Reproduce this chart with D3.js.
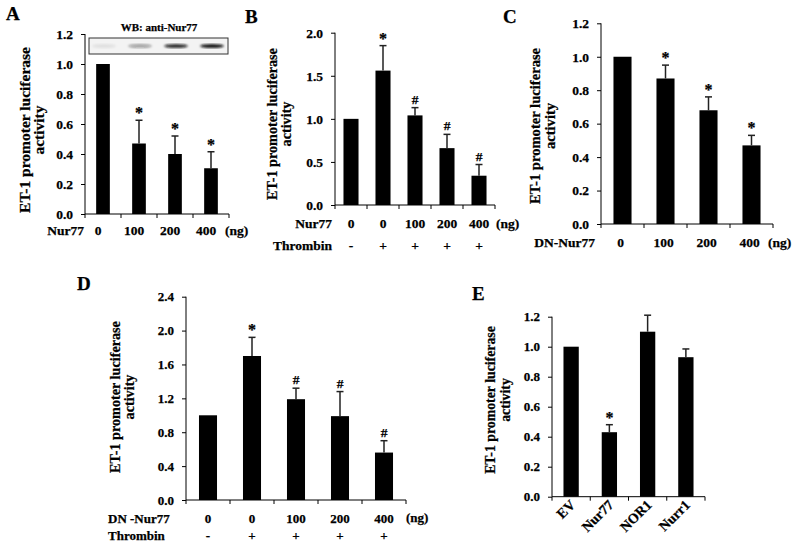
<!DOCTYPE html>
<html>
<head>
<meta charset="utf-8">
<script src="https://cdn.jsdelivr.net/npm/d3@7"></script>
<style>
  body { margin: 0; background: #fff; }
  svg { display: block; }
  svg text { stroke: #000; stroke-width: 0.25px; }
</style>
</head>
<body>
<svg id="chart" width="800" height="549"></svg>
<script>
// panel A : Nur77 dose
var aCats = ["0", "100", "200", "400"];
var aMeans = [1.0, 0.47, 0.40, 0.305];
var aErr = [0, 0.155, 0.12, 0.11];
var aMarks = ["", "*", "*", "*"];
var aTicks = [0, 0.2, 0.4, 0.6, 0.8, 1.0, 1.2];
var aBlot = [0.08, 0.35, 0.85, 0.95];

// panel B : Nur77 + thrombin
var bCats = ["0", "0", "100", "200", "400"];
var bThrombin = ["-", "+", "+", "+", "+"];
var bMeans = [1.0, 1.56, 1.04, 0.66, 0.34];
var bErr = [0, 0.29, 0.09, 0.16, 0.13];
var bMarks = ["", "*", "#", "#", "#"];
var bTicks = [0, 0.5, 1.0, 1.5, 2.0];

// panel C : DN-Nur77 dose
var cCats = ["0", "100", "200", "400"];
var cMeans = [1.0, 0.87, 0.68, 0.47];
var cErr = [0, 0.08, 0.08, 0.06];
var cMarks = ["", "*", "*", "*"];
var cTicks = [0, 0.2, 0.4, 0.6, 0.8, 1.0, 1.2];

// panel D : DN-Nur77 + thrombin
var dCats = ["0", "0", "100", "200", "400"];
var dThrombin = ["-", "+", "+", "+", "+"];
var dMeans = [1.0, 1.70, 1.19, 0.99, 0.56];
var dErr = [0, 0.22, 0.13, 0.29, 0.14];
var dMarks = ["", "*", "#", "#", "#"];
var dTicks = [0, 0.4, 0.8, 1.2, 1.6, 2.0, 2.4];

// panel E : receptor family
var eCats = ["EV", "Nur77", "NOR1", "Nurr1"];
var eMeans = [1.0, 0.43, 1.10, 0.93];
var eErr = [0, 0.05, 0.11, 0.055];
var eMarks = ["", "*", "", ""];
var eTicks = [0, 0.2, 0.4, 0.6, 0.8, 1.0, 1.2];

var serif = "'Liberation Serif','Times New Roman',serif";
var svg = d3.select("#chart");
svg.append("rect").attr("width", 800).attr("height", 549).attr("fill", "#fff");

function drawPanel(p) {
    var g = svg.append("g");
    var pad = p.barFrac;
    var x = d3.scaleBand()
        .domain(d3.range(p.means.length))
        .range([p.x0, p.x1])
        .paddingInner(pad)
        .paddingOuter(pad / 2);
    var y = d3.scaleLinear()
        .domain([0, p.ticks[p.ticks.length - 1]])
        .range([p.yBottom, p.yTop]);
    var step = x.step();
    var off = p.labelOff || 0;

    // panel letter
    g.append("text")
        .attr("x", p.letterX).attr("y", p.letterY)
        .attr("font-family", serif).attr("font-weight", "bold")
        .attr("font-size", 19).text(p.letter);

    // bars
    g.selectAll("rect.bar").data(p.means).enter().append("rect")
        .attr("class", "bar")
        .attr("x", function(d, i) { return x(i); })
        .attr("width", x.bandwidth())
        .attr("y", function(d) { return y(d); })
        .attr("height", function(d) { return y(0) - y(d); })
        .attr("fill", "#000");

    // error bars (upper only)
    p.means.forEach(function(m, i) {
        if (!p.errs[i]) return;
        var cx = x(i) + x.bandwidth() / 2;
        g.append("line")
            .attr("x1", cx).attr("x2", cx)
            .attr("y1", y(m)).attr("y2", y(m + p.errs[i]))
            .attr("stroke", "#222").attr("stroke-width", 1.5);
        g.append("line")
            .attr("x1", cx - 3.5).attr("x2", cx + 3.5)
            .attr("y1", y(m + p.errs[i])).attr("y2", y(m + p.errs[i]))
            .attr("stroke", "#222").attr("stroke-width", 1.5);
    });

    // significance marks
    g.selectAll("text.mark").data(p.marks).enter().append("text")
        .attr("class", "mark")
        .attr("x", function(d, i) { return x(i) + x.bandwidth() / 2; })
        .attr("y", function(d, i) { return y(p.means[i] + p.errs[i]) - (d == "*" ? 2 : 4); })
        .attr("text-anchor", "middle")
        .attr("font-family", serif).attr("font-weight", "bold")
        .attr("font-size", d => d == "*" ? 16 : 13.5)
        .text(function(d) { return d; });

    // y axis
    var yAxis = d3.axisLeft(y).tickValues(p.ticks)
        .tickFormat(d3.format(".1f")).tickSize(4).tickPadding(8);
    var ya = g.append("g").attr("transform", "translate(" + p.x0 + ",0)").call(yAxis);
    ya.select(".domain").attr("d", "M0," + p.yBottom + "V" + p.yTop);

    // x axis line with ticks on band boundaries
    g.append("line")
        .attr("x1", p.x0).attr("x2", p.x1)
        .attr("y1", p.yBottom).attr("y2", p.yBottom)
        .attr("stroke", "#000");
    g.selectAll("line.xt").data(d3.range(p.means.length + 1)).enter().append("line")
        .attr("class", "xt")
        .attr("x1", function(i) { return p.x0 + i * step; })
        .attr("x2", function(i) { return p.x0 + i * step; })
        .attr("y1", p.yBottom).attr("y2", p.yBottom + 4)
        .attr("stroke", "#000");

    ya.selectAll("text")
        .attr("font-family", serif).attr("font-weight", "bold")
        .attr("font-size", p.fs).attr("fill", "#000");
    ya.selectAll("line, path").attr("stroke", "#000");

    // y title
    var t = g.append("text")
        .attr("transform", "translate(" + p.titleX + "," + p.titleY + ") rotate(-90)")
        .attr("text-anchor", "middle")
        .attr("font-family", serif).attr("font-weight", "bold")
        .attr("font-size", p.titleFs);
    t.append("tspan").attr("x", 0).attr("dy", 0).text("ET-1 promoter luciferase");
    t.append("tspan").attr("x", 0).attr("dy", p.titleGap).text("activity");

    // category rows
    p.rows.forEach(function(r) {
        g.append("text")
            .attr("x", r.lx).attr("y", r.y)
            .attr("text-anchor", r.anchor)
            .attr("font-family", serif).attr("font-weight", "bold")
            .attr("font-size", p.fs).text(r.name);
        g.selectAll(null).data(r.values).enter().append("text")
            .attr("x", function(d, i) { return x(i) + x.bandwidth() / 2 + off; })
            .attr("y", r.y)
            .attr("text-anchor", "middle")
            .attr("font-family", serif).attr("font-weight", "bold")
            .attr("font-size", p.fs).text(function(d) { return d; });
    });
    if (p.unit) {
        g.append("text")
            .attr("x", p.unit.x).attr("y", p.unit.y)
            .attr("font-family", serif).attr("font-weight", "bold")
            .attr("font-size", p.fs).text("(ng)");
    }

    // rotated category labels
    if (p.rotCats) {
        g.selectAll(null).data(p.rotCats).enter().append("text")
            .attr("transform", function(d, i) {
                return "translate(" + (x(i) + x.bandwidth() / 2 + 5) + "," + (p.yBottom + 9) + ") rotate(-45)";
            })
            .attr("text-anchor", "end")
            .attr("font-family", serif).attr("font-weight", "bold")
            .attr("font-size", 14).text(function(d) { return d; });
    }
    return { x: x, y: y, g: g };
}

// A
var pa = drawPanel({
    letter: "A", letterX: 6, letterY: 20,
    x0: 85, x1: 229, yBottom: 214, yTop: 34, ticks: aTicks,
    means: aMeans, errs: aErr, marks: aMarks, barFrac: 0.62,
    fs: 13.5, titleFs: 15.5, titleX: 30, titleY: 130, titleGap: 14, labelOff: -5,
    rows: [{ name: "Nur77", lx: 84, y: 235, anchor: "end", values: aCats }],
    unit: { x: 225, y: 235 }
});

// western blot inset
var blot = pa.g.append("g");
blot.append("text")
    .attr("x", 159).attr("y", 31)
    .attr("text-anchor", "middle")
    .attr("font-family", serif).attr("font-weight", "bold")
    .attr("font-size", 11).text("WB: anti-Nur77");
blot.append("rect")
    .attr("x", 89).attr("y", 38).attr("width", 139).attr("height", 16)
    .attr("fill", "#f3f3f3").attr("stroke", "#333").attr("stroke-width", 1);
var defs = svg.append("defs");
defs.append("filter").attr("id", "blur")
    .append("feGaussianBlur").attr("stdDeviation", 0.9);
blot.selectAll("ellipse").data(aBlot).enter().append("ellipse")
    .attr("cx", function(d, i) { return pa.x(i) + pa.x.bandwidth() / 2 + 1; })
    .attr("cy", 46)
    .attr("rx", 12).attr("ry", 2.1)
    .attr("fill", "#111")
    .attr("fill-opacity", function(d) { return d; })
    .attr("filter", "url(#blur)");

// B
drawPanel({
    letter: "B", letterX: 245, letterY: 23,
    x0: 335, x1: 495, yBottom: 205, yTop: 32.7, ticks: bTicks,
    means: bMeans, errs: bErr, marks: bMarks, barFrac: 0.53,
    fs: 13.5, titleFs: 14.2, titleX: 277, titleY: 124, titleGap: 14,
    rows: [
        { name: "Nur77", lx: 332, y: 228, anchor: "end", values: bCats },
        { name: "Thrombin", lx: 332, y: 250, anchor: "end", values: bThrombin }
    ],
    unit: { x: 496, y: 228 }
});

// C
drawPanel({
    letter: "C", letterX: 503, letterY: 23,
    x0: 601, x1: 773, yBottom: 224, yTop: 23.3, ticks: cTicks,
    means: cMeans, errs: cErr, marks: cMarks, barFrac: 0.58,
    fs: 13.5, titleFs: 14.6, titleX: 540, titleY: 126, titleGap: 15, labelOff: -2,
    rows: [{ name: "DN-Nur77", lx: 595, y: 247, anchor: "end", values: cCats }],
    unit: { x: 768, y: 247 }
});

// D
drawPanel({
    letter: "D", letterX: 77, letterY: 290,
    x0: 186, x1: 406, yBottom: 500, yTop: 296.7, ticks: dTicks,
    means: dMeans, errs: dErr, marks: dMarks, barFrac: 0.59,
    fs: 13, titleFs: 14.2, titleX: 120, titleY: 397, titleGap: 14,
    rows: [
        { name: "DN -Nur77", lx: 108, y: 523, anchor: "start", values: dCats },
        { name: "Thrombin", lx: 108, y: 540, anchor: "start", values: dThrombin }
    ],
    unit: { x: 406, y: 522 }
});

// E
drawPanel({
    letter: "E", letterX: 472, letterY: 300,
    x0: 552, x1: 705, yBottom: 496.7, yTop: 316.7, ticks: eTicks,
    means: eMeans, errs: eErr, marks: eMarks, barFrac: 0.6,
    fs: 13, titleFs: 13.8, titleX: 495, titleY: 400, titleGap: 15,
    rows: [], rotCats: eCats
});
</script>
</body>
</html>
